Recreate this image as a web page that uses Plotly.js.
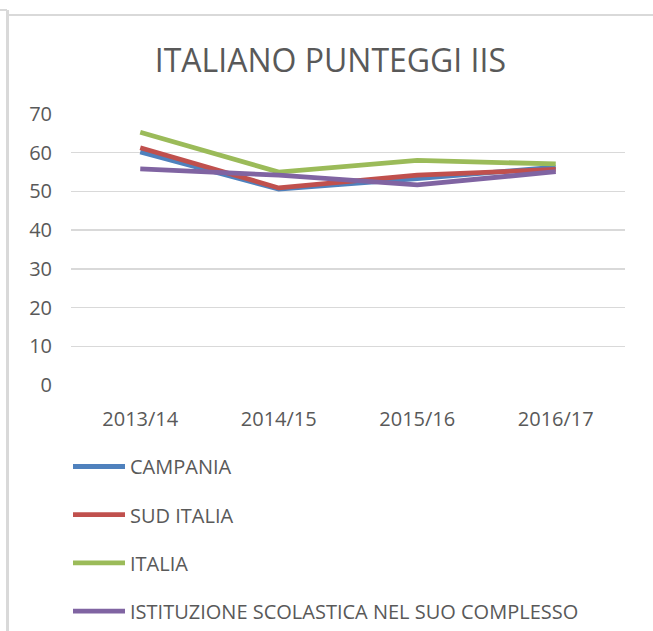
<!DOCTYPE html>
<html>
<head>
<meta charset="utf-8">
<script src="https://cdn.plot.ly/plotly-3.0.1.min.js"></script>
<style>
  html, body { margin: 0; padding: 0; background: #ffffff; }
  #wrap { position: relative; width: 653px; height: 631px; overflow: hidden; }
  #chart { position: absolute; left: 0; top: 0; width: 653px; height: 700px; }
  .edge { position: absolute; background: #d9d9d9; pointer-events: none; }
</style>
</head>
<body>
<div id="wrap">
  <div id="chart"></div>
  <div class="edge" style="left:6px; top:10px; width:3px; height:621px;"></div>
  <div class="edge" style="left:0px; top:9px; width:7px; height:2px;"></div>
  <div class="edge" style="left:7px; top:14px; width:646px; height:2px;"></div>
</div>
<script>
const categories = ["2013/14", "2014/15", "2015/16", "2016/17"];
const campania = [60.2, 50.6, 53.3, 56.3];
const sudItalia = [61.3, 50.9, 54.2, 55.7];
const italia = [65.3, 55.0, 58.0, 57.1];
const istituzione = [55.8, 54.2, 51.7, 55.1];
const seriesNames = ["CAMPANIA", "SUD ITALIA", "ITALIA", "ISTITUZIONE SCOLASTICA NEL SUO COMPLESSO"];
const seriesColors = ["#4F81BD", "#C0504D", "#9BBB59", "#8064A2"];
const yTicks = [0, 10, 20, 30, 40, 50, 60, 70];

const allValues = [campania, sudItalia, italia, istituzione];
const traces = allValues.map((vals, i) => ({
  type: "scatter",
  mode: "lines",
  x: categories,
  y: vals,
  name: seriesNames[i],
  legendgroup: "g" + i,
  line: { color: seriesColors[i], width: 4.8 },
  hoverinfo: "x+y+name"
}));

const fontFam = "Open Sans, Liberation Sans, sans-serif";
const W = 653, H = 700;
const ml = 71, mr = 28, mt = 114, plotBottom = 385;
const mb = H - plotBottom;
const plotW = W - ml - mr, plotH = plotBottom - mt;
const layout = {
  width: W,
  height: H,
  paper_bgcolor: "rgba(0,0,0,0)",
  plot_bgcolor: "rgba(0,0,0,0)",
  margin: { l: ml, r: mr, t: mt, b: mb },
  title: {
    text: "ITALIANO PUNTEGGI IIS",
    font: { family: fontFam, size: 32, color: "#595959" },
    xref: "container", x: 0.506, xanchor: "center",
    yref: "container", y: 1 - 61 / H, yanchor: "middle"
  },
  xaxis: {
    type: "category",
    range: [-0.5, 3.5],
    showgrid: false,
    showline: false,
    zeroline: false,
    ticks: "",
    tickangle: 0,
    ticklabelstandoff: 20,
    tickfont: { family: fontFam, size: 20, color: "#595959" },
    fixedrange: true
  },
  yaxis: {
    range: [0, 70],
    tickvals: yTicks,
    ticktext: yTicks.map(String),
    showgrid: true,
    gridcolor: "#D9D9D9",
    gridwidth: 1.3,
    zeroline: false,
    showline: false,
    ticks: "",
    ticklabelstandoff: 18,
    tickfont: { family: fontFam, size: 20, color: "#595959" },
    fixedrange: true
  },
  showlegend: true,
  legend: {
    orientation: "v",
    xref: "paper", yref: "paper",
    x: (68 - ml) / plotW, xanchor: "left",
    y: (plotBottom - 447) / plotH, yanchor: "top",
    tracegroupgap: 19.2,
    itemwidth: 52,
    font: { family: fontFam, size: 20, color: "#595959" },
    bgcolor: "rgba(0,0,0,0)"
  }
};

Plotly.newPlot("chart", traces, layout, { displayModeBar: false, staticPlot: true });
</script>
</body>
</html>
